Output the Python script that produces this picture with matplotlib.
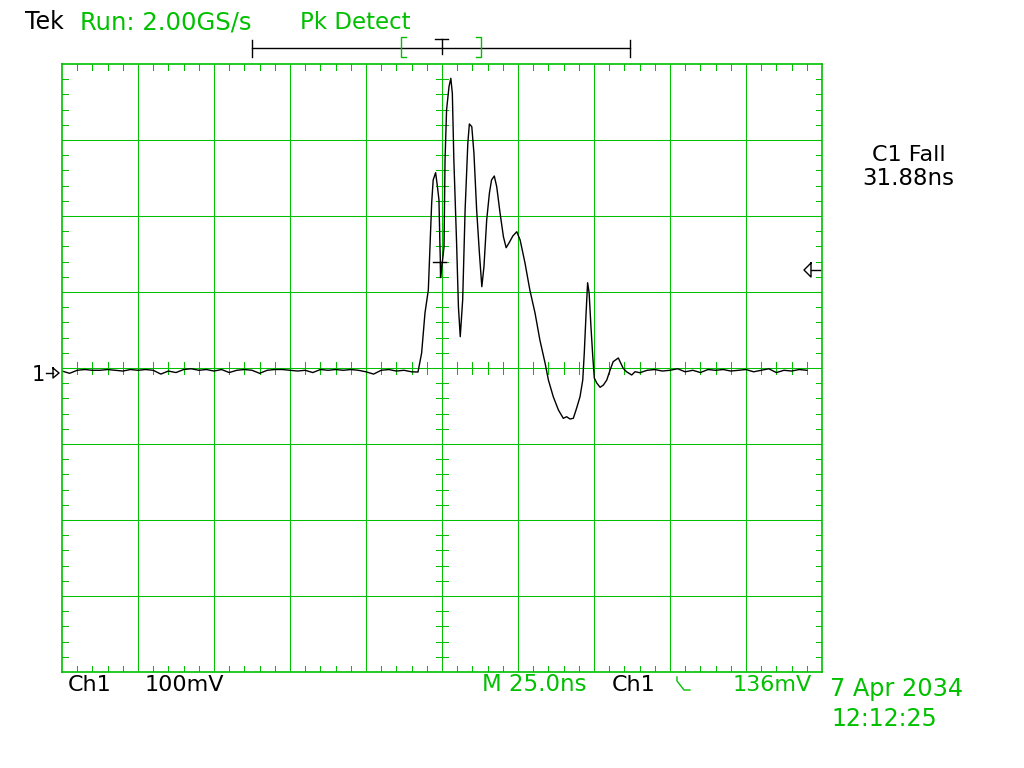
import matplotlib
matplotlib.use("Agg")
import matplotlib.pyplot as plt
from matplotlib.lines import Line2D

GREEN = "#00c000"
BLACK = "#000000"
W, H = 1024, 768

# trace: time (ns, 0 = screen centre) and voltage (mV), 25 ns/div, 100 mV/div
time_ns = [
    -125, -122.5, -120, -117.5, -115, -112.5, -110, -107.5, -105, -102.5,
    -100, -97.5, -95, -92.5, -90, -87.5, -85, -82.5, -80, -77.5,
    -75, -72.5, -70, -67.5, -65, -62.5, -60, -57.5, -55, -52.5,
    -50, -47.5, -45, -42.5, -40, -37.5, -35, -32.5, -30, -27.5,
    -25, -22.5, -20, -17.5, -15, -12.5, -10,
    -7.9, -6.7, -5.6, -4.5, -3.4, -2.9, -2.1, -1.5, -1.0, -0.7,
    -0.4, 0.1, 0.66, 1.0, 1.5, 2.3, 2.9, 3.4, 3.9, 4.8,
    5.4, 6.0, 6.8, 7.6, 8.5, 9.0, 9.8, 10.5, 11.4, 12.3,
    13.1, 13.8, 14.7, 15.6, 16.3, 17.2, 18.0, 19.1, 20.2, 21.1,
    22.1, 23.3, 24.6, 25.7, 27.3, 28.9, 30.6, 32.2, 33.9, 35.0,
    36.6, 38.3, 39.9, 41.0, 42.1, 43.2, 44.3, 45.4, 46.3, 46.8,
    47.4, 47.9, 48.4, 49.0, 49.6, 50.1, 50.9, 52.0, 53.1, 54.2,
    55.3, 56.3, 58.0, 59.6, 60.7, 62.4, 63.5, 65.1,
    67.5, 70, 72.5, 75, 77.5, 80, 82.5, 85, 87.5, 90,
    92.5, 95, 97.5, 100, 102.5, 105, 107.5, 110, 112.5, 115,
    117.5, 120,
]
volt_mv = [
    -4, -7, -3, -2, -3, -3, -2, -3, -4, -2,
    -3, -2, -3, -8, -4, -6, -2, -1, -3, -2,
    -4, -2, -6, -3, -2, -3, -7, -3, -2, -2,
    -3, -4, -3, -6, -2, -3, -2, -3, -2, -3,
    -5, -8, -3, -2, -4, -3, -5,
    -5.3, 19.7, 72.4, 102.6, 217.1, 247.4, 257.0, 238.5, 221.1, 164.5,
    120.1, 138.2, 159.6, 273.7, 339.5, 370.1, 381.2, 361.4, 273.7, 164.5,
    80.7, 41.2, 89.5, 207.9, 296.1, 321.1, 317.5, 282.9, 207.9, 151.3,
    107.0, 133.3, 194.7, 230.3, 247.4, 252.6, 238.5, 203.9, 172.8, 158.3,
    164.9, 173.7, 179.3, 168.4, 138.2, 102.6, 72.4, 36.8, 6.6, -15.8,
    -37.8, -55.3, -66.2, -64.1, -67.1, -66.2, -52.6, -37.8, -15.8, 19.7,
    72.4, 112.2, 98.7, 54.3, 14.9, -13.2, -19.7, -25.4, -22.4, -15.8,
    -2.6, 8.3, 13.2, -0.4, -4.9, -9.2, -4.9, -6.2,
    -3, -2, -4, -3, -1, -5, -3, -6, -2, -3,
    -2, -4, -3, -2, -5, -3, -1, -6, -3, -4,
    -2, -3,
]

fig = plt.figure(figsize=(W / 100, H / 100), dpi=100)
fig.patch.set_facecolor("white")


def fx(x):
    return x / W


def fy(y):
    return 1 - y / H


def fig_line(xs, ys, color=BLACK, lw=1.0):
    fig.add_artist(Line2D([fx(x) for x in xs], [fy(y) for y in ys],
                          transform=fig.transFigure, color=color, lw=lw))


def fig_text(x, y, s, color=BLACK, size=16):
    fig.text(fx(x), fy(y), s, color=color, fontsize=size,
             family="DejaVu Sans", va="baseline", ha="left")


ax = fig.add_axes([fx(62), fy(672), 760 / W, 608 / H])
ax.set_xlim(-125, 125)
ax.set_ylim(-400, 400)
ax.set_xticks([])
ax.set_yticks([])
for sp in ax.spines.values():
    sp.set_color(GREEN)
    sp.set_linewidth(1.2)

# graticule
GL = 0.75
for t in range(-100, 125, 25):
    ax.axvline(t, color=GREEN, lw=GL)
for v in range(-300, 400, 100):
    ax.axhline(v, color=GREEN, lw=GL)

tl_v, tl_t = 8, 2.0
for t in range(-120, 125, 5):
    ax.plot([t, t], [400, 400 - tl_v], color=GREEN, lw=GL)
    ax.plot([t, t], [-400, -400 + tl_v], color=GREEN, lw=GL)
    ax.plot([t, t], [-tl_v, tl_v], color=GREEN, lw=GL)
for v in range(-380, 400, 20):
    ax.plot([-125, -125 + tl_t], [v, v], color=GREEN, lw=GL)
    ax.plot([125, 125 - tl_t], [v, v], color=GREEN, lw=GL)
    ax.plot([-tl_t, tl_t], [v, v], color=GREEN, lw=GL)

ax.plot(time_ns, volt_mv, color=BLACK, lw=1.0)

# trigger point marker on the trace
ax.plot([-3.0, 1.3], [139.5, 139.5], color=BLACK, lw=1.0)
ax.plot([-0.6, -0.6], [139.5, 119.7], color=BLACK, lw=1.0)

# header
fig_text(25, 29, "Tek", size=17)
fig_text(80, 29, "Run: 2.00GS/s", GREEN, 17.5)
fig_text(300, 29, "Pk Detect", GREEN, 16.5)

# record bar
fig_line([252, 630], [48, 48])
fig_line([252, 252], [40, 57])
fig_line([630, 630], [40, 57])
fig_line([406, 401, 401, 406], [37, 37, 57, 57], GREEN)
fig_line([476, 481, 481, 476], [37, 37, 57, 57], GREEN)
fig_line([435, 448], [39, 39])
fig_line([441.5, 441.5], [39, 54])

# measurement readout
fig_text(872, 161, "C1 Fall")
fig_text(862, 185, "31.88ns", size=16.5)

# ground marker
fig_text(32, 381, "1", size=15)
fig_line([46, 53], [373, 373])
fig_line([53, 59, 53, 53], [368, 373, 378, 368])

# trigger level marker
fig_line([820, 811], [270, 270])
fig_line([811, 804, 811, 811], [263, 270, 277, 263])

# footer
fig_text(68, 691, "Ch1")
fig_text(145, 691, "100mV")
fig_text(482, 691, "M 25.0ns", GREEN, 16.5)
fig_text(612, 691, "Ch1")
fig_line([677, 677, 684, 690], [677, 681, 690, 690], GREEN)
fig_text(733, 691, "136mV", GREEN)
fig_text(830, 696, "7 Apr 2034", GREEN, 17.3)
fig_text(831, 726, "12:12:25", GREEN, 17)

fig.savefig("out.png", dpi=100, facecolor="white")
